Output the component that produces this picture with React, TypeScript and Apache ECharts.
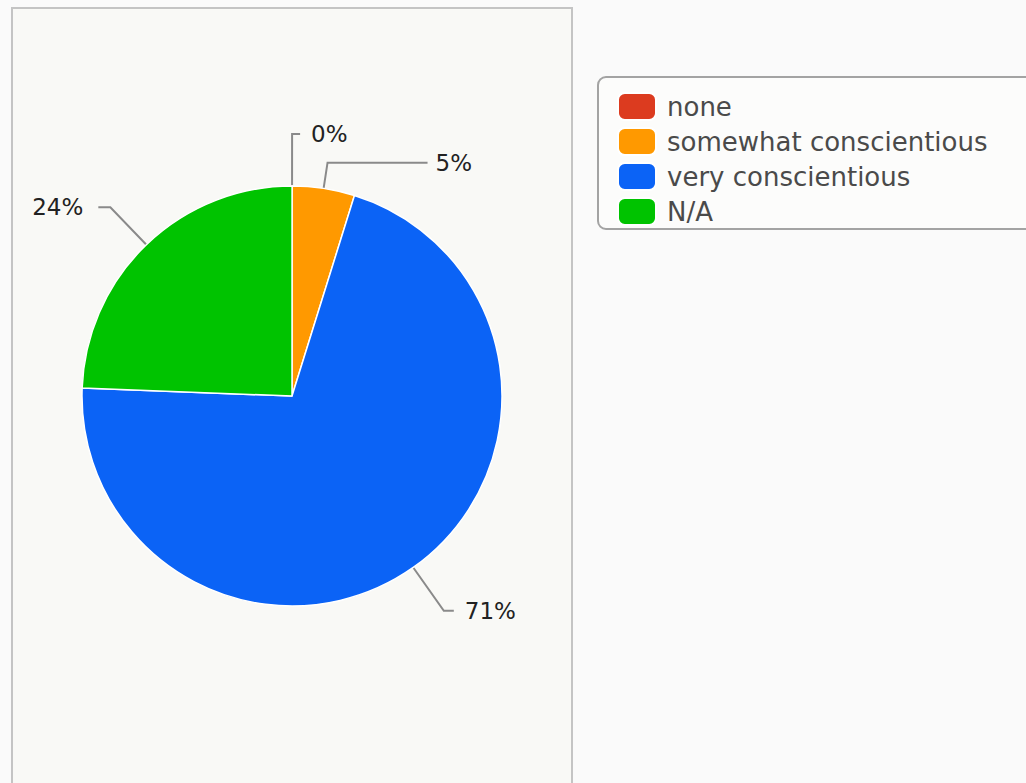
import React, { useEffect, useRef } from "react";
import * as echarts from "echarts";

const categories = ["none", "somewhat conscientious", "very conscientious", "N/A"];
const values = [0, 4.8, 70.8, 24.4];
const colors = ["#dc3b1f", "#ff9900", "#0b63f6", "#00c300"];
// per-slice label line geometry (first segment, horizontal segment, text gap)
const lineLen = [52, 26, 53, 52];
const lineLen2 = [8, 100, 10, 12];
const textGap = [11, 8, 11, 15];

export default function App() {
  const ref = useRef<HTMLDivElement>(null);
  useEffect(() => {
    if (!ref.current) return;
    const chart = echarts.init(ref.current, undefined, { renderer: "svg" });
    const font = "'DejaVu Sans', Verdana, sans-serif";
    chart.setOption({
      animation: false,
      backgroundColor: "#fafafa",
      graphic: [
        {
          type: "rect",
          z: -10,
          silent: true,
          shape: { x: 12, y: 8, width: 560, height: 820 },
          style: { fill: "#f9f9f6", stroke: "#c4c4c4", lineWidth: 2 },
        },
        {
          type: "rect",
          z: -10,
          silent: true,
          shape: { x: 598, y: 77, width: 470, height: 152, r: 8 },
          style: { fill: "#fcfcfb", stroke: "#a3a3a3", lineWidth: 2 },
        },
      ],
      legend: {
        orient: "vertical",
        left: 617,
        top: 92,
        itemWidth: 38,
        itemHeight: 27,
        itemGap: 6,
        icon: "roundRect",
        padding: 0,
        data: categories,
        textStyle: {
          fontSize: 26,
          color: "#4a4a4a",
          fontFamily: font,
          padding: [0, 0, 0, 6],
        },
      },
      series: [
        {
          type: "pie",
          center: [292, 396],
          radius: 210,
          startAngle: 89.98,
          clockwise: true,
          avoidLabelOverlap: false,
          itemStyle: { borderColor: "#ffffff", borderWidth: 1.5 },
          label: {
            show: true,
            position: "outside",
            fontSize: 23,
            color: "#222222",
            fontFamily: font,
            padding: [8, 0, 0, 0],
            formatter: (p: any) => Math.round(p.percent) + "%",
          },
          labelLine: {
            show: true,
            lineStyle: { color: "#8a8a8a", width: 2 },
          },
          data: categories.map((name, i) => ({
            name,
            value: values[i],
            itemStyle: { color: colors[i] },
            label: { distanceToLabelLine: textGap[i] },
            labelLine: { length: lineLen[i], length2: lineLen2[i] },
          })),
        },
      ],
    });
    return () => chart.dispose();
  }, []);
  return (
    <div
      ref={ref}
      style={{ position: "fixed", left: 0, top: 0, width: 1026, height: 783 }}
    />
  );
}
